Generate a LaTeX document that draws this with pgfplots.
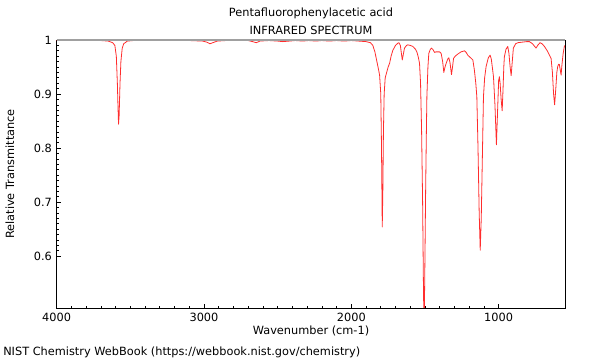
\documentclass[border=0pt]{standalone}
\usepackage{pgfplots}
\pgfplotsset{compat=1.18}
\usepackage{fontspec}
\setmainfont{DejaVu Sans}
\definecolor{spec}{RGB}{255,45,45}
\definecolor{topgray}{RGB}{160,160,160}
\begin{document}
\begin{tikzpicture}[x=0.75pt,y=0.75pt,font=\fontsize{8.5}{10}\selectfont]
\path[use as bounding box] (0,0) rectangle (600,360);
\begin{axis}[
  at={(42.5pt,39pt)}, anchor=south west,
  scale only axis, width=381.2pt, height=201pt,
  x dir=reverse, xmin=550, xmax=4000, ymin=0.504, ymax=1,
  xtick={1000,2000,3000,4000}, minor x tick num=9,
  ytick={0.6,0.7,0.8,0.9,1}, minor y tick num=9,
  yticklabels={0.6,0.7,0.8,0.9,1},
  xtick pos=left, ytick pos=left,
  tick align=inside,
  major tick length=3pt, minor tick length=1.6pt,
  every tick/.style={black, line width=0.5pt},
  axis line style={black, line width=0.6pt},
  /pgf/number format/1000 sep={},
  /pgf/number format/assume math mode=true,
  tick label style={font=\fontsize{8.5}{10}\selectfont},
  clip=true,
]
\addplot[spec, line width=0.6pt, line join=round] table {
4000 0.999
3900 0.999
3800 0.999
3700 0.999
3650 0.998
3620 0.995
3605 0.990
3595 0.970
3588 0.920
3583 0.870
3580 0.844
3576 0.860
3570 0.920
3564 0.960
3555 0.985
3545 0.993
3520 0.998
3480 0.999
3300 0.999
3100 0.999
3010 0.998
2980 0.996
2960 0.993
2940 0.995
2910 0.998
2850 0.999
2700 0.999
2670 0.997
2645 0.995
2620 0.998
2560 0.999
2500 0.998
2465 0.997
2420 0.998
2380 0.999
2330 0.998
2290 0.999
2240 0.998
2200 0.999
2150 0.998
2100 0.999
2050 0.998
2000 0.999
1950 0.998
1900 0.997
1870 0.995
1854 0.990
1840 0.978
1830 0.965
1815 0.945
1808 0.935
1800 0.900
1795 0.800
1790 0.654
1786 0.720
1782 0.830
1777 0.900
1770 0.930
1760 0.940
1750 0.950
1740 0.957
1730 0.970
1718 0.981
1700 0.990
1685 0.994
1677 0.995
1667 0.990
1660 0.975
1654 0.963
1648 0.972
1639 0.985
1625 0.990
1616 0.991
1600 0.990
1582 0.988
1565 0.983
1555 0.978
1545 0.968
1537 0.957
1530 0.920
1523 0.833
1516 0.700
1511 0.560
1508 0.495
1504 0.500
1500 0.600
1496 0.710
1491 0.820
1487 0.895
1480 0.950
1474 0.975
1465 0.982
1456 0.985
1445 0.982
1435 0.977
1425 0.978
1413 0.978
1400 0.978
1390 0.975
1380 0.960
1372 0.940
1364 0.950
1356 0.957
1345 0.965
1338 0.967
1330 0.958
1320 0.936
1313 0.950
1306 0.966
1295 0.970
1277 0.974
1255 0.978
1232 0.980
1220 0.977
1210 0.972
1190 0.967
1175 0.963
1165 0.945
1155 0.920
1148 0.895
1140 0.800
1132 0.680
1125 0.611
1118 0.670
1110 0.790
1103 0.895
1095 0.930
1085 0.951
1070 0.967
1058 0.972
1050 0.965
1042 0.948
1035 0.932
1025 0.880
1015 0.806
1007 0.870
1000 0.925
995 0.932
990 0.920
983 0.890
976 0.869
970 0.910
965 0.950
961 0.969
950 0.983
938 0.988
930 0.975
922 0.950
915 0.934
909 0.955
900 0.985
885 0.993
870 0.995
840 0.996
810 0.997
791 0.997
770 0.993
755 0.988
746 0.985
735 0.990
719 0.995
705 0.993
689 0.988
670 0.980
655 0.972
644 0.966
635 0.940
627 0.900
620 0.880
612 0.910
605 0.940
599 0.951
593 0.955
588 0.955
582 0.945
576 0.935
570 0.955
562 0.975
554 0.988
550 0.990
};
\end{axis}
\draw[topgray, line width=1.5pt] (current axis.north west) -- (current axis.north east);
\node at (311,347) {Pentafluorophenylacetic acid};
\node at (311,330) {INFRARED SPECTRUM};
\node at (311,29) {Wavenumber (cm-1)};
\node[rotate=90] at (10,186) {Relative Transmittance};
\node[anchor=west, inner sep=0pt] at (3,8) {NIST Chemistry WebBook (https://webbook.nist.gov/chemistry)};
\end{tikzpicture}
\end{document}
